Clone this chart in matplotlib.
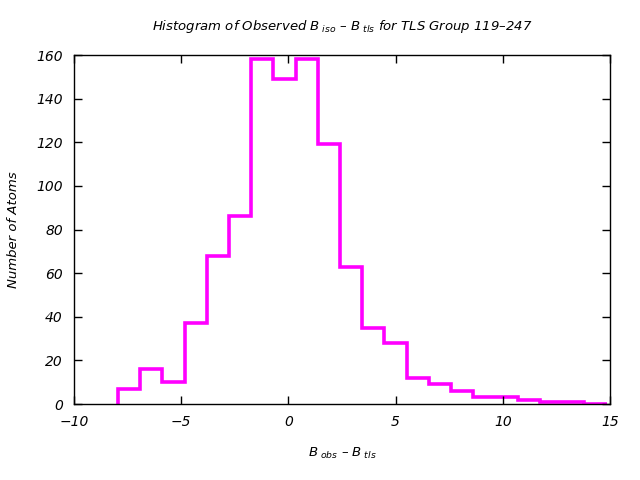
import numpy as np
import matplotlib.pyplot as plt

# histogram of B_obs - B_tls, bin edges and counts
bin_start = -7.95
bin_width = 1.036
counts = [7, 16, 10, 37, 68, 86, 158, 149, 158, 119, 63,
          35, 28, 12, 9, 6, 3, 3, 2, 1, 1, 0]
edges = bin_start + bin_width * np.arange(len(counts) + 1)

x_ticks = [-10, -5, 0, 5, 10, 15]
y_ticks = [0, 20, 40, 60, 80, 100, 120, 140, 160]

plt.rcParams['font.family'] = 'DejaVu Sans'
plt.rcParams['font.style'] = 'italic'
plt.rcParams['mathtext.fontset'] = 'dejavusans'

fig = plt.figure(figsize=(6.4, 4.8), dpi=100)
ax = fig.add_axes([0.1156, 0.1583, 0.8375, 0.7271])

ax.stairs(counts, edges, baseline=0, color='#ff00ff', linewidth=2.6)

ax.set_xlim(-10, 15)
ax.set_ylim(0, 160)
ax.set_xticks(x_ticks)
ax.set_yticks(y_ticks)
ax.tick_params(direction='in', length=6, width=1, top=True, right=True,
               labelsize=10, pad=8)
for lab in ax.get_xticklabels() + ax.get_yticklabels():
    lab.set_style('italic')
for s in ax.spines.values():
    s.set_linewidth(1)

ax.set_title(r'Histogram of Observed $B_{\ iso}$ – $B_{\ tls}$ for TLS Group 119–247',
             fontsize=9.5, style='italic', pad=18)
ax.set_xlabel(r'$B_{\ obs}$ – $B_{\ tls}$', fontsize=9.5, labelpad=12)
ax.set_ylabel('Number of Atoms', fontsize=9.5, style='italic', labelpad=12)

fig.savefig('out.png', dpi=100)
